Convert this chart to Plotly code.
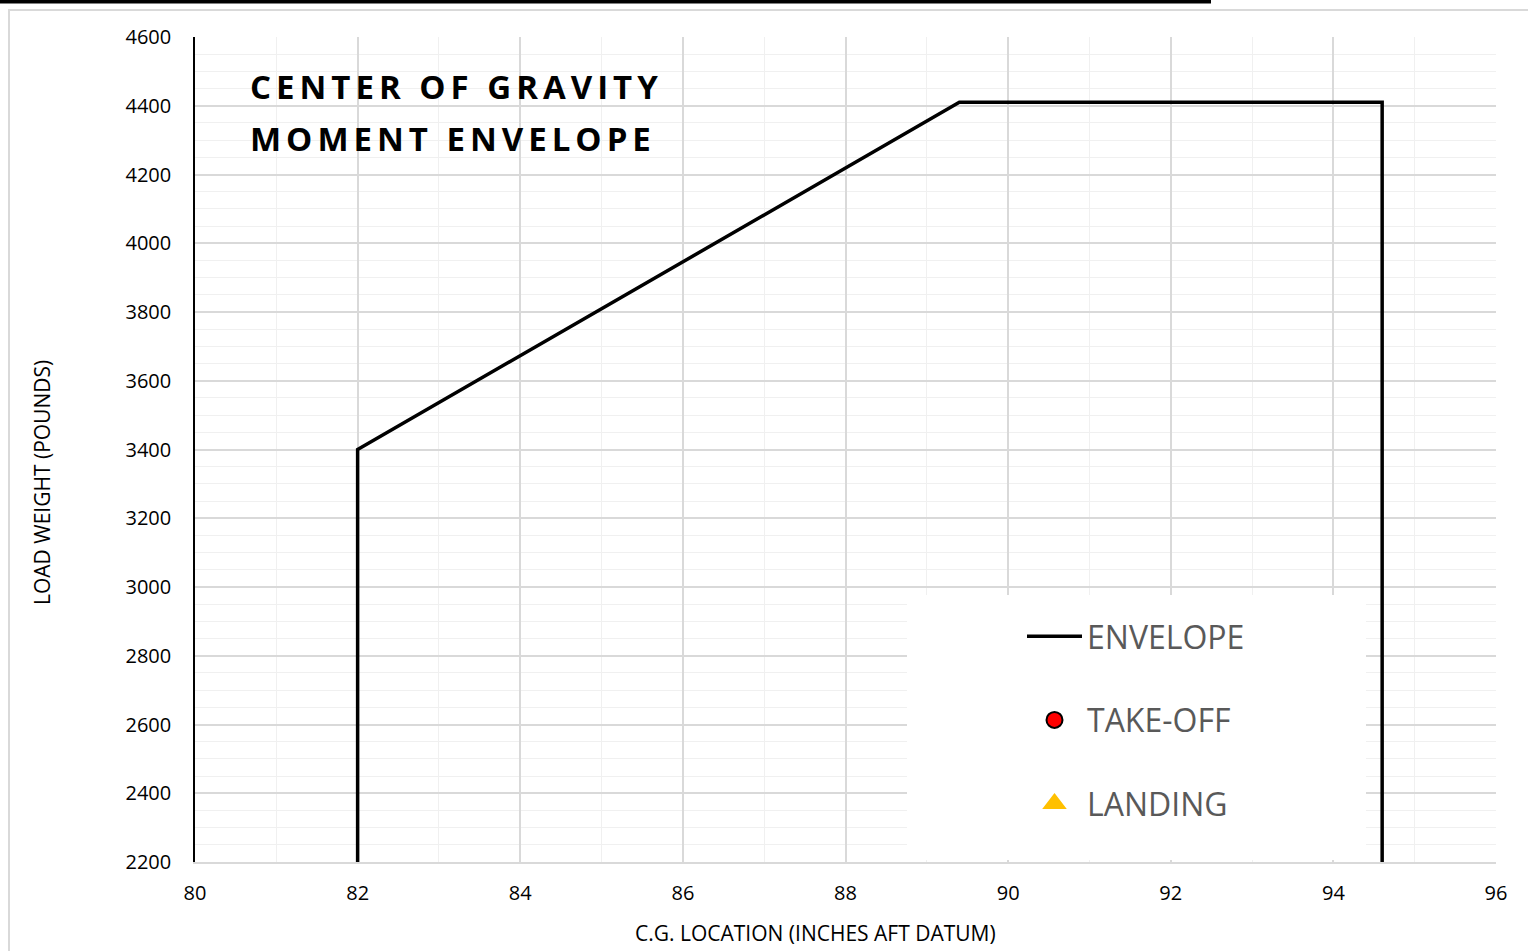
import plotly.graph_objects as go

# Envelope vertices (C.G. inches aft datum, load weight pounds)
envelope_x = [82.0, 82.0, 89.4, 94.6, 94.6]
envelope_y = [2200, 3400, 4410, 4410, 2200]

# Take-off and landing points (none plotted in reference)
takeoff_x = [None]
takeoff_y = [None]
landing_x = [None]
landing_y = [None]

x_ticks = [80, 82, 84, 86, 88, 90, 92, 94, 96]
y_ticks = [2200, 2400, 2600, 2800, 3000, 3200, 3400, 3600, 3800, 4000, 4200, 4400, 4600]

W, H = 1528, 951
L, R, T, B = 195, 32, 37, 89
pw, ph = W - L - R, H - T - B
X0, X1, Y0, Y1 = 80, 96, 2200, 4600

def px_x(p):
    return (p - L) / pw

def px_y(p):
    return 1 - (p - T) / ph

def dx(p):
    return X0 + (p - L) / pw * (X1 - X0)

def dy(p):
    return Y0 + (1 - (p - T) / ph) * (Y1 - Y0)

fig = go.Figure()

fig.add_trace(go.Scatter(
    x=envelope_x, y=envelope_y, mode="lines", name="ENVELOPE",
    legendgroup="a",
    line=dict(color="black", width=3.5), hoverinfo="x+y",
))
fig.add_trace(go.Scatter(
    x=takeoff_x, y=takeoff_y, mode="markers", name="TAKE-OFF",
    legendgroup="b",
    marker=dict(symbol="circle", color="#FF0000", size=16,
                line=dict(color="black", width=2)),
))
fig.add_trace(go.Scatter(
    x=landing_x, y=landing_y, mode="markers", name="LANDING",
    legendgroup="c",
    marker=dict(symbol="triangle-up", color="#FFC000", size=20,
                line=dict(color="#FFC000", width=3)),
))

font_main = "Open Sans"
ls = "letter-spacing:5px"

fig.update_layout(
    width=W, height=H,
    margin=dict(l=L, r=R, t=T, b=B, autoexpand=False),
    paper_bgcolor="white", plot_bgcolor="white",
    font=dict(family=font_main, color="black"),
    showlegend=True,
    legend=dict(
        x=px_x(1022), y=px_y(609), xanchor="left", yanchor="top",
        bgcolor="rgba(0,0,0,0)", borderwidth=0,
        font=dict(size=32, color="#595959", family=font_main),
        itemwidth=55,
        tracegroupgap=39,
    ),
    xaxis=dict(
        range=[X0, X1], tickvals=x_ticks, ticktext=[str(v) for v in x_ticks],
        showgrid=True, gridcolor="#D9D9D9", gridwidth=1.5,
        minor=dict(dtick=1, showgrid=True, gridcolor="#F0F0F0", gridwidth=1),
        showline=True, linecolor="#D9D9D9", linewidth=1.5,
        ticks="", tickfont=dict(size=20, color="black"),
        ticklabelstandoff=12,
        zeroline=False, fixedrange=True,
    ),
    yaxis=dict(
        range=[Y0, Y1], tickvals=y_ticks, ticktext=[str(v) for v in y_ticks],
        showgrid=True, gridcolor="#D9D9D9", gridwidth=1.5,
        minor=dict(dtick=50, showgrid=True, gridcolor="#F0F0F0", gridwidth=1),
        showline=True, linecolor="black", linewidth=1.5,
        ticks="", tickfont=dict(size=20, color="black"),
        ticklabelstandoff=18,
        zeroline=False, fixedrange=True,
    ),
    shapes=[
        dict(type="rect", xref="paper", yref="paper",
             x0=px_x(9), x1=px_x(W + 20), y0=px_y(H + 20), y1=px_y(10),
             line=dict(color="#D9D9D9", width=2), fillcolor="rgba(0,0,0,0)",
             layer="below"),
        dict(type="rect", xref="paper", yref="paper",
             x0=px_x(-5), x1=px_x(1211), y0=px_y(3.5), y1=px_y(-5),
             line=dict(width=0), fillcolor="black", layer="above"),
        dict(type="rect", xref="x", yref="y",
             x0=dx(907), x1=dx(1366), y0=dy(860), y1=dy(595),
             line=dict(width=0), fillcolor="white", layer="between"),
    ],
    annotations=[
        dict(text=f"<b><span style='{ls}'>CENTER OF GRAVITY</span></b>",
             xref="paper", yref="paper", x=px_x(248), y=px_y(62),
             xanchor="left", yanchor="top", align="left", showarrow=False,
             font=dict(size=33, color="black", family=font_main)),
        dict(text=f"<b><span style='{ls}'>MOMENT ENVELOPE</span></b>",
             xref="paper", yref="paper", x=px_x(248), y=px_y(114),
             xanchor="left", yanchor="top", align="left", showarrow=False,
             font=dict(size=33, color="black", family=font_main)),
        dict(text="C.G. LOCATION (INCHES AFT DATUM)",
             xref="paper", yref="paper", x=px_x(815), y=px_y(933),
             xanchor="center", yanchor="middle", showarrow=False,
             font=dict(size=21, color="black", family=font_main)),
        dict(text="LOAD WEIGHT (POUNDS)", textangle=-90,
             xref="paper", yref="paper", x=px_x(42), y=px_y(483),
             xanchor="center", yanchor="middle", showarrow=False,
             font=dict(size=21, color="black", family=font_main)),
    ],
)

fig.write_html("out.html", config={"displayModeBar": False},
               post_script="document.body.style.margin='0';")
